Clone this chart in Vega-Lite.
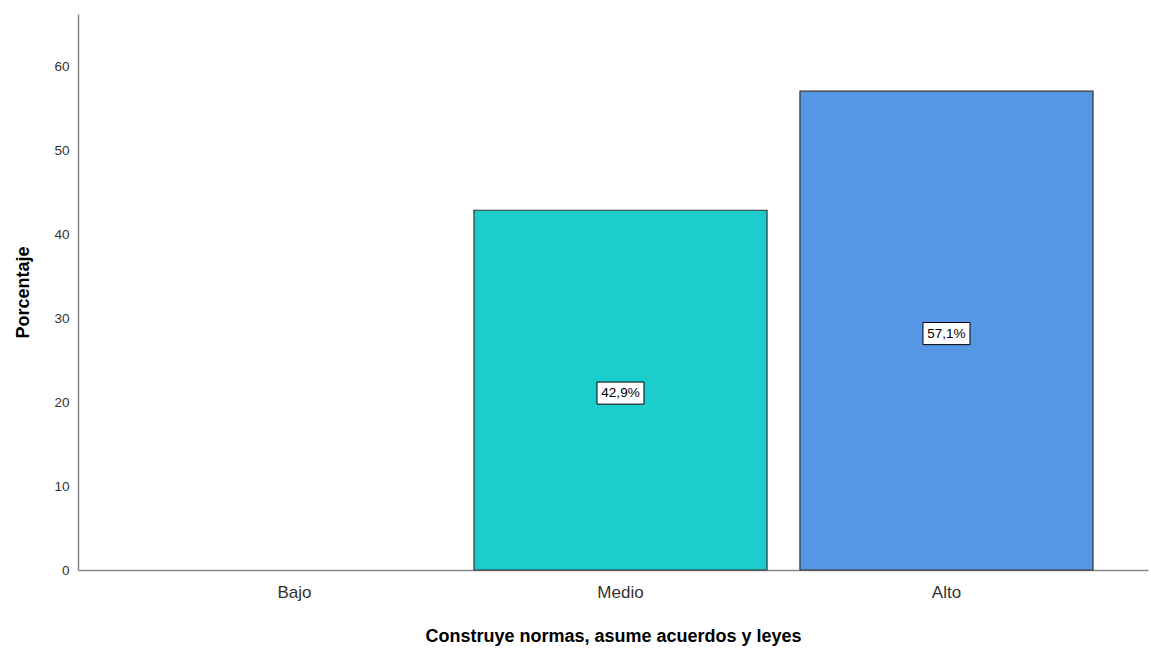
{
  "$schema": "https://vega.github.io/schema/vega-lite/v6.json",
  "autosize": {"type": "none"},
  "padding": {"left": 78, "top": 14, "right": 3, "bottom": 80},
  "width": 1070,
  "height": 556,
  "background": "white",
  "config": {
    "view": {"stroke": null},
    "font": "Liberation Sans"
  },
  "data": {
    "values": [
      {"cat": "Bajo", "pct": 0, "label": ""},
      {"cat": "Medio", "pct": 42.9, "label": "42,9%"},
      {"cat": "Alto", "pct": 57.1, "label": "57,1%"}
    ]
  },
  "encoding": {
    "x": {
      "field": "cat",
      "type": "nominal",
      "sort": ["Bajo", "Medio", "Alto"],
      "scale": {"domain": ["Bajo", "Medio", "Alto"], "paddingInner": 0.101, "paddingOuter": 0.1917, "align": 0.56},
      "axis": {
        "title": "Construye normas, asume acuerdos y leyes",
        "titleFontSize": 18,
        "titleFontWeight": "bold",
        "titleColor": "#000",
        "titlePadding": 27,
        "labelAngle": 0,
        "labelFontSize": 17,
        "labelColor": "#333",
        "labelPadding": 14,
        "ticks": false,
        "domainColor": "#888",
        "domainWidth": 1.5,
        "grid": false
      }
    }
  },
  "layer": [
    {
      "transform": [{"filter": "datum.pct > 0"}],
      "mark": {"type": "bar", "stroke": "#333", "strokeWidth": 1.2},
      "encoding": {
        "y": {
          "field": "pct",
          "type": "quantitative",
          "scale": {"domain": [0, 66.3], "nice": false},
          "axis": {
            "title": "Porcentaje",
            "titleFontSize": 18,
            "titleFontWeight": "bold",
            "titleColor": "#000",
            "titlePadding": 21,
            "values": [0, 10, 20, 30, 40, 50, 60],
            "labelFontSize": 13.5,
            "labelColor": "#333",
            "labelPadding": 9,
            "ticks": false,
            "domainColor": "#888",
            "domainWidth": 1.5,
            "grid": false
          }
        },
        "color": {
          "field": "cat",
          "type": "nominal",
          "scale": {"domain": ["Medio", "Alto"], "range": ["#1ccdcd", "#5596e5"]},
          "legend": null
        }
      }
    },
    {
      "transform": [{"filter": "datum.pct > 0"}, {"calculate": "datum.pct / 2", "as": "mid"}],
      "mark": {
        "type": "point",
        "shape": "M-1,-0.47L1,-0.47L1,0.47L-1,0.47Z",
        "filled": false,
        "fill": "white",
        "fillOpacity": 1,
        "stroke": "#000",
        "strokeWidth": 1,
        "opacity": 1,
        "size": 2209,
        "yOffset": 3
      },
      "encoding": {
        "y": {"field": "mid", "type": "quantitative"}
      }
    },
    {
      "transform": [{"filter": "datum.pct > 0"}, {"calculate": "datum.pct / 2", "as": "mid"}],
      "mark": {"type": "text", "fontSize": 13.5, "color": "#000", "baseline": "middle", "align": "center", "yOffset": 3},
      "encoding": {
        "y": {"field": "mid", "type": "quantitative"},
        "text": {"field": "label"}
      }
    }
  ]
}
